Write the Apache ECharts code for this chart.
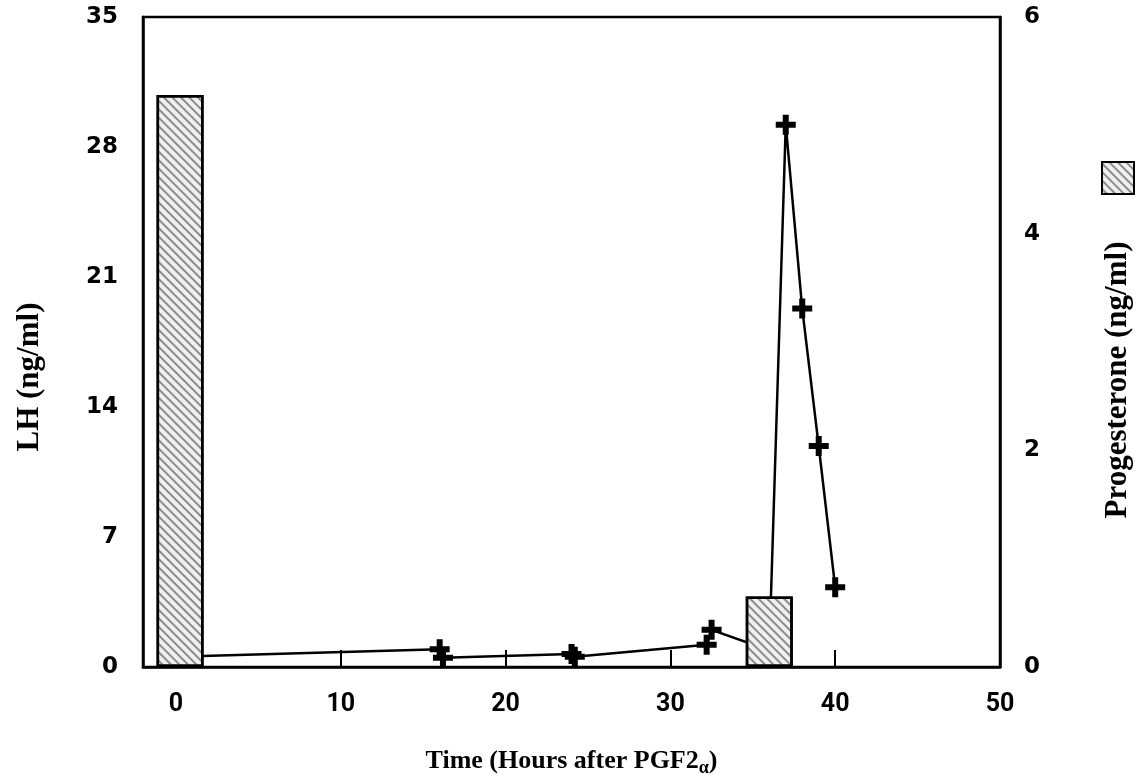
<!DOCTYPE html>
<html>
<head>
<meta charset="UTF-8">
<title>LH and Progesterone</title>
<script type="text/javascript" src="https://cdn.jsdelivr.net/npm/echarts@6/dist/echarts.min.js"></script>
</head>
<body style="margin:0;background:#fff">
	<div id="main" style="height:784px;width:1139px"></div>
<script type="text/javascript">
// data
var lhTimes = [0, 16, 16.2, 24, 24.2, 32.2, 32.5, 36, 37, 38, 39, 40];
var lhValues = [0.55, 0.95, 0.5, 0.7, 0.55, 1.2, 2.0, 0.9, 29.2, 19.3, 11.9, 4.3];
var progTimes = [0.25, 36];
var progValues = [5.28, 0.65];
var timeTicks = [0, 10, 20, 30, 40, 50];

var myChart = echarts.init(document.getElementById('main'));

var lhData = lhTimes.map(function (t, i) { return [t, lhValues[i]]; });
var progData = progTimes.map(function (t, i) { return [t, progValues[i]]; });

var plus = 'path://M7,0H13V7H20V13H13V20H7V13H0V7H7Z';
var serifTitle = { fontFamily: 'Liberation Serif', fontWeight: 'bold', fontSize: 31, color: '#000' };
var numFont = { fontFamily: 'DejaVu Sans', fontWeight: 'bold', fontSize: 23, color: '#000' };

option = {
  backgroundColor: '#fff',
  animation: false,
  grid: {
    left: 143, right: 139, top: 17, bottom: 117,
    outerBoundsMode: 'none',
    show: true, borderColor: '#000', borderWidth: 2.5
  },
  legend: {
    data: ['Progesterone'],
    left: 1096, top: 156,
    icon: 'rect', itemWidth: 32, itemHeight: 32,
    formatter: function () { return ''; },
    itemStyle: { borderColor: '#000', borderWidth: 2 }
  },
  xAxis: {
    type: 'value', min: -2, max: 50,
    name: 'Time (Hours after PGF2{sub|α})',
    nameLocation: 'middle', nameGap: 78,
    nameTextStyle: {
      fontFamily: 'Liberation Serif', fontWeight: 'bold', fontSize: 26, color: '#000',
      rich: { sub: { fontFamily: 'Liberation Serif', fontWeight: 'bold', fontSize: 18, padding: [14, 0, 0, 0] } }
    },
    axisLine: { onZero: false, lineStyle: { color: '#000', width: 2.5 } },
    axisTick: { inside: true, length: 17, customValues: timeTicks, lineStyle: { color: '#000', width: 2 } },
    axisLabel: {
      customValues: timeTicks, margin: 25,
      fontFamily: 'Roboto', fontWeight: 'bold', fontSize: 25, color: '#000'
    },
    splitLine: { show: false }
  },
  yAxis: [
    {
      type: 'value', min: 0, max: 35, interval: 7,
      name: 'LH (ng/ml)', nameLocation: 'middle', nameGap: 98,
      nameTextStyle: Object.assign({}, serifTitle, { padding: [0, 70, 0, 0] }),
      axisLine: { show: true, onZero: false, lineStyle: { color: '#000', width: 2.5 } },
      axisTick: { show: false },
      axisLabel: Object.assign({ margin: 25 }, numFont),
      splitLine: { show: false }
    },
    {
      type: 'value', min: 0, max: 6, interval: 2, position: 'right',
      name: 'Progesterone (ng/ml)', nameLocation: 'middle', nameGap: 102,
      nameTextStyle: Object.assign({}, serifTitle, { padding: [0, 76, 0, 0] }),
      axisLine: { show: true, onZero: false, lineStyle: { color: '#000', width: 2.5 } },
      axisTick: { show: false },
      axisLabel: Object.assign({ margin: 24 }, numFont),
      splitLine: { show: false }
    }
  ],
  series: [
    {
      name: 'LH',
      type: 'line',
      yAxisIndex: 0,
      z: 1,
      data: lhData,
      symbol: plus,
      symbolSize: 20,
      itemStyle: { color: '#000' },
      lineStyle: { color: '#000', width: 2.5 }
    },
    {
      name: 'Progesterone',
      type: 'bar',
      yAxisIndex: 1,
      z: 3,
      barWidth: 47,
      data: progData,
      itemStyle: {
        color: '#f0f0f0',
        borderColor: '#000',
        borderWidth: 2.5,
        decal: {
          symbol: 'rect', symbolSize: 1,
          dashArrayX: [[1, 0]], dashArrayY: [2, 4],
          rotation: Math.PI / 4,
          color: 'rgba(40,40,40,0.5)'
        }
      }
    }
  ]
};

myChart.setOption(option);
</script>
</body>
</html>
